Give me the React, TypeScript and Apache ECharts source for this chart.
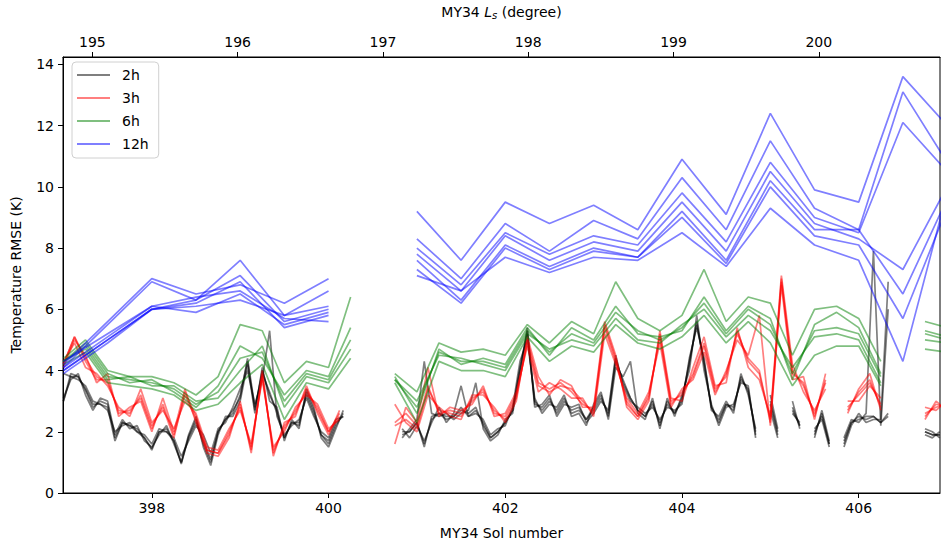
import React, { useEffect, useRef } from 'react';
import * as echarts from 'echarts';

const N = null;

// axis extents
const SOL_MIN = 396.995;
const SOL_MAX = 406.92;
const LS_MIN = 194.798;
const LS_MAX = 200.834;
const Y_MAX = 14.24;
const SOL_TICKS = [398, 400, 402, 404, 406];
const LS_TICKS = [195, 196, 197, 198, 199, 200];
const Y_TICKS = [0, 2, 4, 6, 8, 10, 12, 14];
const GROUPS = ['2h', '3h', '6h', '12h'];

// sampling of each window length (sol)
const START_SOL = 397;
const STEP_2H = 1 / 12;
const STEP_3H = 1 / 8;
const STEP_6H = 1 / 4;
const STEP_12H = 1 / 2;

// 2h window RMSE members (K)
const RMSE_2H_A = [
  3.0, 3.8, 3.8, 3.35, 2.8, 3.0, 2.9, 1.8, 2.3, 2.2, 2.1, 1.8,
  1.45, 2.0, 2.1, 1.7, 0.95, 1.85, 2.4, 1.6, 1.0, 2.0, 2.4, 2.6,
  3.2, 4.3, 2.7, 4.0, 3.2, 2.7, 1.8, 2.3, 2.2, 3.3, 2.7, 1.9,
  1.6, 2.2, 2.6, N, N, N, N, N, N, N, 1.9, 2.0,
  2.3, 1.5, 2.5, 2.6, 2.5, 2.5, 2.7, 2.6, 2.8, 2.2, 1.8, 2.0,
  2.3, 2.7, 4.1, 5.3, 2.9, 2.8, 3.1, 2.6, 3.0, 2.7, 2.8, 2.4,
  2.7, 3.1, 2.6, 4.4, 3.6, 3.1, 2.7, 2.5, 2.9, 2.3, 2.9, 2.6,
  3.0, 4.3, 5.5, 4.3, 2.8, 2.4, 2.9, 2.7, 3.8, 3.3, 2.0, N,
  3.0, 2.0, N, 2.8, 2.2, N, 1.9, 2.6, 1.6, N, 1.6, 2.3,
  2.5, 2.4, 2.5, 2.3, 2.6, N, N, N, N, 2.0, 1.9, 1.9,
];
const RMSE_2H_B = [
  3.9, 3.8, 3.7, 3.5, 3.0, 2.9, 2.7, 2.0, 2.2, 2.3, 2.0, 1.9,
  1.6, 2.1, 2.0, 1.8, 1.2, 1.7, 2.2, 1.9, 1.3, 2.1, 2.3, 2.8,
  3.4, 4.0, 2.9, 3.7, 5.3, 2.5, 1.9, 2.2, 2.4, 3.1, 2.5, 2.0,
  1.8, 2.4, 2.5, N, N, N, N, N, N, N, 2.1, 1.8,
  2.2, 1.7, 2.3, 2.8, 2.3, 2.6, 3.5, 2.5, 2.6, 2.4, 1.9, 2.1,
  2.2, 2.8, 4.3, 5.0, 3.1, 2.6, 2.9, 2.8, 3.2, 2.5, 2.6, 2.2,
  2.9, 3.3, 2.4, 4.1, 3.8, 4.3, 2.6, 2.4, 3.1, 2.1, 3.1, 2.5,
  3.2, 4.0, 5.8, 4.0, 2.9, 2.2, 2.8, 2.9, 3.6, 3.5, 1.8, N,
  2.7, 1.8, N, 2.6, 2.3, N, 2.1, 2.4, 1.5, N, 1.8, 2.4,
  2.3, 2.6, 7.9, 2.2, 6.0, N, N, N, N, 2.1, 2.0, 1.8,
];
const RMSE_2H_C = [
  3.1, 3.7, 3.9, 3.2, 2.7, 3.1, 3.0, 1.9, 2.4, 2.1, 2.2, 1.7,
  1.5, 1.9, 2.2, 1.6, 1.0, 1.9, 2.5, 1.5, 0.9, 1.9, 2.5, 2.5,
  3.0, 4.2, 2.6, 4.1, 3.0, 2.8, 1.7, 2.4, 2.1, 3.4, 2.8, 1.8,
  1.5, 2.1, 2.7, N, N, N, N, N, N, N, 1.8, 2.1,
  2.4, 4.3, 2.6, 2.5, 2.6, 2.4, 2.6, 2.7, 3.6, 2.1, 1.7, 1.9,
  2.4, 2.6, 3.9, 5.4, 2.8, 2.9, 3.2, 2.5, 2.9, 2.8, 2.9, 2.3,
  2.6, 3.0, 2.7, 4.5, 3.5, 3.0, 2.8, 2.6, 2.8, 2.4, 2.8, 2.7,
  2.9, 4.4, 5.4, 4.4, 2.7, 2.5, 3.0, 2.6, 3.9, 3.2, 2.1, N,
  3.2, 2.1, N, 3.0, 2.1, N, 1.8, 2.7, 1.7, N, 1.5, 2.2,
  2.6, 2.3, 2.4, 2.4, 6.9, N, N, N, N, 1.9, 1.8, 2.0,
];
const RMSE_2H_D = [
  3.0, 3.9, 3.8, 3.4, 2.9, 2.9, 2.8, 1.7, 2.3, 2.2, 2.0, 1.8,
  1.4, 2.0, 2.0, 1.7, 1.0, 1.8, 2.3, 1.7, 1.1, 2.0, 2.4, 2.7,
  3.1, 4.4, 2.8, 3.9, 3.3, 2.6, 1.8, 2.3, 2.3, 3.2, 2.6, 1.9,
  1.7, 2.3, 2.5, N, N, N, N, N, N, N, 2.0, 2.0,
  2.3, 1.6, 2.4, 2.6, 2.4, 2.5, 2.8, 2.5, 2.7, 2.3, 1.8, 2.0,
  2.3, 2.7, 4.0, 5.2, 3.0, 2.7, 3.0, 2.7, 3.1, 2.6, 2.7, 2.4,
  2.8, 3.2, 2.5, 4.3, 3.7, 3.1, 2.7, 2.5, 3.0, 2.2, 3.0, 2.6,
  3.1, 4.2, 5.6, 4.2, 2.8, 2.3, 2.9, 2.8, 3.7, 3.4, 1.9, N,
  2.9, 1.9, N, 2.7, 2.2, N, 2.0, 2.5, 1.6, N, 1.7, 2.3,
  2.4, 2.5, 2.5, 2.3, 2.5, N, N, N, N, 2.0, 1.9, 1.9,
];

// 3h window RMSE members (K)
const RMSE_3H_A = [
  4.2, 5.1, 4.3, 3.7, 3.7, 2.6, 2.7, 3.1,
  2.1, 2.9, 1.9, 3.2, 2.4, 1.4, 1.3, 1.9,
  2.9, 1.4, 3.9, 1.3, 2.2, 2.6, 3.4, 2.7,
  2.0, 2.6, N, N, N, N, 2.2, 2.4,
  2.1, 3.4, 2.7, 2.6, 2.5, 3.1, 3.3, 2.7,
  2.4, 3.1, 5.0, 3.6, 3.4, 3.6, 3.3, 2.9,
  2.7, 5.5, 4.4, 2.9, 2.5, 3.1, 5.2, 3.0,
  3.2, 3.9, 4.9, 3.4, 3.8, 5.3, 4.3, 3.9,
  2.4, 7.0, 4.0, 3.5, 2.6, 3.6, N, 2.8,
  3.2, 3.6, 2.9, N, N, N, 2.6, 2.8,
  2.9,
];
const RMSE_3H_B = [
  4.3, 4.9, 4.1, 3.9, 3.5, 2.8, 2.5, 3.4,
  2.3, 2.7, 2.1, 3.0, 2.6, 1.5, 1.4, 2.1,
  2.7, 1.6, 3.7, 1.5, 2.0, 2.8, 3.2, 2.9,
  2.1, 2.4, N, N, N, N, 1.6, 2.8,
  2.3, 4.1, 2.5, 2.8, 2.7, 2.9, 3.5, 2.5,
  2.6, 3.3, 4.8, 3.3, 3.6, 3.4, 3.1, 3.1,
  2.5, 5.2, 4.2, 3.1, 2.6, 3.3, 4.9, 2.8,
  3.4, 3.7, 4.6, 3.2, 4.0, 5.0, 4.5, 5.8,
  2.2, 6.8, 3.7, 3.8, 2.4, 3.9, N, 2.6,
  3.4, 3.9, 2.7, N, N, N, 2.4, 3.0,
  2.7,
];
const RMSE_3H_C = [
  4.1, 5.0, 4.5, 3.6, 3.9, 2.5, 2.8, 3.0,
  2.0, 3.1, 2.0, 3.4, 2.3, 1.3, 1.2, 1.8,
  3.0, 1.3, 4.0, 1.2, 2.3, 2.5, 3.5, 2.6,
  1.9, 2.7, N, N, N, N, 2.9, 2.3,
  2.0, 3.2, 2.8, 2.5, 2.4, 3.2, 3.2, 2.8,
  2.3, 3.0, 5.1, 3.8, 3.2, 3.7, 3.5, 2.8,
  2.8, 5.6, 4.5, 2.8, 2.4, 3.0, 5.3, 3.1,
  3.0, 4.1, 5.1, 3.5, 3.6, 5.4, 4.1, 3.7,
  2.5, 7.1, 4.2, 3.3, 2.7, 3.4, N, 3.0,
  3.0, 3.5, 3.1, N, N, N, 2.8, 2.7,
  3.0,
];
const RMSE_3H_D = [
  4.2, 5.1, 4.4, 3.8, 3.6, 2.7, 2.6, 3.2,
  2.2, 2.8, 1.8, 3.3, 2.5, 1.4, 1.3, 2.0,
  2.8, 1.5, 3.8, 1.4, 2.1, 2.7, 3.3, 2.8,
  2.0, 2.5, N, N, N, N, 2.3, 2.6,
  2.2, 3.5, 2.6, 2.7, 2.6, 3.0, 3.4, 2.6,
  2.5, 3.2, 4.9, 3.5, 3.3, 3.5, 3.4, 3.0,
  2.6, 5.4, 4.3, 3.0, 2.5, 3.2, 5.1, 2.9,
  3.3, 3.8, 4.8, 3.3, 3.9, 5.2, 4.4, 4.0,
  2.3, 6.9, 3.9, 3.6, 2.5, 3.7, N, 2.7,
  3.3, 3.7, 2.8, N, N, N, 2.5, 2.9,
  2.8,
];

// 6h window RMSE members (K)
const RMSE_6H_A = [
  4.3, 4.8, 3.8, 3.7, 3.6, 3.4, 2.9, 3.3, 4.4, 4.6, 3.0, 3.9, 3.7, 5.0, N,
  3.7, 2.8, 4.6, 4.3, 4.3, 4.1, 5.3, 4.6, 5.2, 4.9, 5.9, 5.3, 5.0,
  5.4, 6.2, 5.2, 6.0, 5.5, 3.9, 5.3, 5.4, 5.2, 3.8, N, 5.2, 5.0,
];
const RMSE_6H_B = [
  4.4, 5.0, 4.0, 3.8, 3.8, 3.6, 3.2, 3.8, 5.5, 5.3, 3.6, 4.3, 4.1, 6.4, N,
  3.9, 3.3, 4.9, 4.6, 4.7, 4.5, 5.5, 4.9, 5.6, 5.2, 6.9, 5.7, 5.3,
  5.8, 7.3, 5.6, 6.4, 6.2, 4.5, 6.0, 6.1, 5.7, 4.3, N, 5.6, 5.4,
];
const RMSE_6H_C = [
  4.2, 4.6, 3.6, 3.5, 3.4, 3.2, 2.7, 2.9, 3.6, 4.2, 2.4, 3.6, 3.4, 4.4, N,
  3.6, 2.3, 4.3, 4.0, 4.0, 3.8, 5.1, 4.3, 4.8, 4.6, 5.5, 4.9, 4.7,
  5.1, 5.8, 4.9, 5.6, 4.9, 3.5, 4.5, 4.8, 4.8, 3.5, N, 4.7, 4.6,
];
const RMSE_6H_D = [
  4.3, 4.9, 3.9, 3.6, 3.7, 3.3, 2.8, 3.5, 4.8, 4.4, 3.2, 4.0, 3.8, 5.4, N,
  3.8, 2.6, 4.7, 4.2, 4.4, 4.2, 5.4, 4.5, 5.4, 5.0, 6.1, 5.2, 5.1,
  5.3, 6.4, 5.3, 6.1, 5.7, 3.7, 5.5, 5.9, 5.4, 3.9, N, 5.3, 5.1,
];
const RMSE_6H_E = [
  4.3, 4.7, 3.7, 3.8, 3.5, 3.5, 3.0, 3.1, 4.0, 4.8, 2.8, 3.8, 3.6, 4.7, N,
  3.7, 3.0, 4.5, 4.4, 4.2, 4.0, 5.2, 4.7, 5.0, 4.8, 5.7, 5.0, 4.9,
  5.5, 6.0, 5.1, 5.8, 5.3, 4.1, 5.1, 5.2, 5.0, 3.6, N, 5.0, 4.9,
];

// 12h window RMSE members (K)
const RMSE_12H_A = [4.2, 5.6, 7.0, 6.5, 6.8, 6.2, 7.0, N, 9.2, 7.6, 9.5, 8.8, 9.4, 8.6, 10.9, 9.1, 12.4, 9.9, 9.5, 13.6, 12.0];
const RMSE_12H_B = [4.1, 5.5, 6.9, 6.3, 7.6, 5.8, 6.6, N, 8.3, 7.0, 8.8, 7.9, 8.9, 8.3, 10.3, 8.6, 11.5, 9.3, 8.6, 13.1, 10.8];
const RMSE_12H_C = [4.0, 5.0, 6.0, 6.3, 7.1, 5.6, 6.0, N, 8.0, 6.8, 8.5, 7.8, 8.4, 8.1, 9.8, 8.2, 10.8, 9.0, 8.5, 12.1, 10.5];
const RMSE_12H_D = [3.9, 4.9, 6.0, 6.2, 6.9, 5.4, 5.8, N, 7.8, 6.6, 8.4, 7.6, 8.2, 7.9, 9.5, 7.9, 10.5, 8.8, 8.3, 7.3, 10.0];
const RMSE_12H_E = [4.1, 5.1, 6.1, 6.4, 6.6, 5.7, 5.6, N, 7.6, 6.3, 8.1, 7.4, 8.0, 7.7, 9.2, 7.6, 10.2, 8.6, 8.6, 6.5, 9.6];
const RMSE_12H_F = [4.3, 5.2, 6.1, 5.9, 6.5, 5.5, 5.9, N, 7.3, 6.2, 8.0, 7.3, 7.9, 7.7, 9.0, 7.5, 10.0, 8.4, 8.1, 5.7, 9.3];
const RMSE_12H_G = [4.0, 5.0, 6.0, 6.1, 6.3, 5.8, 6.1, N, 7.1, 6.6, 7.7, 7.2, 7.7, 7.6, 8.5, 7.4, 9.3, 8.1, 7.6, 4.3, 9.8];

const FONT = 'DejaVu Sans';
const COLOR_2H = 'rgba(0,0,0,0.5)';
const COLOR_3H = 'rgba(255,0,0,0.5)';
const COLOR_6H = 'rgba(0,128,0,0.5)';
const COLOR_12H = 'rgba(0,0,255,0.5)';

function lineSeries(name: string, color: string, step: number, values: (number | null)[]) {
  return {
    type: 'line',
    name,
    data: values.map((v, i) => [START_SOL + i * step, v === null ? '-' : v]),
    symbol: 'none',
    showSymbol: false,
    connectNulls: false,
    clip: true,
    silent: true,
    emphasis: { disabled: true },
    lineStyle: { color, width: 1.7 },
    itemStyle: { color },
  };
}

export default function App() {
  const ref = useRef<HTMLDivElement>(null);
  useEffect(() => {
    document.body.style.margin = '0';
    const chart = echarts.init(ref.current as HTMLDivElement, null, { renderer: 'svg' });
    const series = [
      ...[RMSE_2H_A, RMSE_2H_B, RMSE_2H_C, RMSE_2H_D].map((v) => lineSeries('2h', COLOR_2H, STEP_2H, v)),
      ...[RMSE_3H_A, RMSE_3H_B, RMSE_3H_C, RMSE_3H_D].map((v) => lineSeries('3h', COLOR_3H, STEP_3H, v)),
      ...[RMSE_6H_A, RMSE_6H_B, RMSE_6H_C, RMSE_6H_D, RMSE_6H_E].map((v) => lineSeries('6h', COLOR_6H, STEP_6H, v)),
      ...[RMSE_12H_A, RMSE_12H_B, RMSE_12H_C, RMSE_12H_D, RMSE_12H_E, RMSE_12H_F, RMSE_12H_G].map((v) =>
        lineSeries('12h', COLOR_12H, STEP_12H, v)
      ),
    ];
    const axisText = { color: '#000', fontSize: 14, fontFamily: FONT };
    chart.setOption({
      animation: false,
      textStyle: { fontFamily: FONT },
      grid: {
        left: 63,
        top: 54,
        width: 877,
        height: 439,
        show: true,
        borderColor: '#000',
        borderWidth: 1,
        backgroundColor: 'transparent',
      },
      legend: {
        data: GROUPS,
        orient: 'vertical',
        left: 72,
        top: 62,
        padding: [5, 10, 6, 5],
        icon: 'rect',
        itemGap: 7,
        itemWidth: 33,
        itemHeight: 2,
        backgroundColor: 'rgba(255,255,255,0.8)',
        borderColor: '#d0d0d0',
        borderWidth: 1,
        borderRadius: 4,
        selectedMode: false,
        textStyle: { ...axisText, padding: [0, 0, 0, 7], lineHeight: 16 },
      },
      xAxis: [
        {
          type: 'value',
          position: 'bottom',
          min: SOL_MIN,
          max: SOL_MAX,
          name: 'MY34 Sol number',
          nameLocation: 'middle',
          nameGap: 33,
          nameTextStyle: axisText,
          axisLine: { onZero: false, lineStyle: { color: '#000', width: 1 } },
          axisTick: { customValues: SOL_TICKS, length: 5, lineStyle: { color: '#000' } },
          axisLabel: { ...axisText, customValues: SOL_TICKS, margin: 8, formatter: (v: number) => String(Math.round(v)) },
          splitLine: { show: false },
        },
        {
          type: 'value',
          position: 'top',
          min: LS_MIN,
          max: LS_MAX,
          name: '{n|MY34 }{i|L}{s|s}{n| (degree)}',
          nameLocation: 'middle',
          nameGap: 37,
          nameTextStyle: {
            rich: {
              n: { ...axisText },
              i: { ...axisText, fontStyle: 'italic' },
              s: { color: '#000', fontFamily: FONT, fontSize: 10, fontStyle: 'italic', verticalAlign: 'bottom', padding: [6, 0, 0, 0] },
            },
          },
          axisLine: { onZero: false, lineStyle: { color: '#000', width: 1 } },
          axisTick: { customValues: LS_TICKS, length: 5, lineStyle: { color: '#000' } },
          axisLabel: { ...axisText, customValues: LS_TICKS, margin: 8, formatter: (v: number) => String(Math.round(v)) },
          splitLine: { show: false },
        },
      ],
      yAxis: {
        type: 'value',
        min: 0,
        max: Y_MAX,
        name: 'Temperature RMSE (K)',
        nameLocation: 'middle',
        nameGap: 40,
        nameRotate: 90,
        nameTextStyle: axisText,
        axisLine: { show: true, onZero: false, lineStyle: { color: '#000', width: 1 } },
        axisTick: { show: true, customValues: Y_TICKS, length: 5, lineStyle: { color: '#000' } },
        axisLabel: { ...axisText, customValues: Y_TICKS, margin: 9, formatter: (v: number) => String(Math.round(v)) },
        splitLine: { show: false },
      },
      series,
    });
    return () => chart.dispose();
  }, []);
  return <div ref={ref} style={{ width: 941, height: 547 }} />;
}
